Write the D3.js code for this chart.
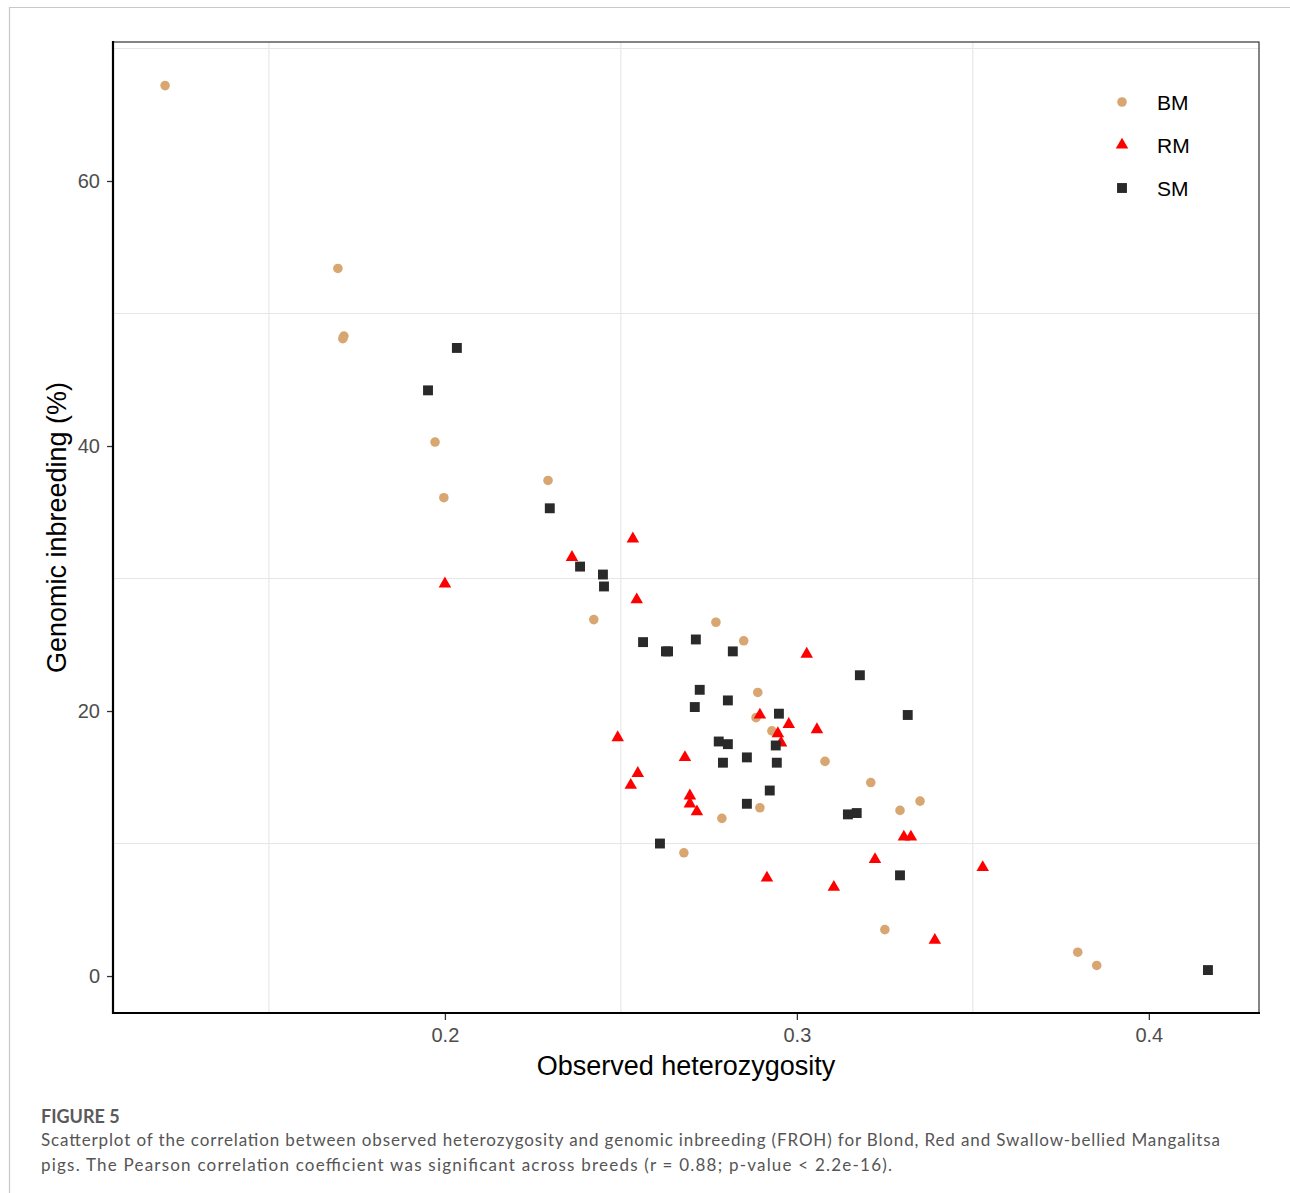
<!DOCTYPE html>
<html>
<head>
<meta charset="utf-8">
<script src="https://cdn.jsdelivr.net/npm/d3@7"></script>
<style>
  html, body { margin: 0; padding: 0; background: #fff; }
  svg { display: block; }
</style>
</head>
<body>
<div id="chart"></div>
<script>
// ===== DATA =====
const breeds = ['BM', 'RM', 'SM'];

// Blond Mangalitsa
const bmHet = [0.1205, 0.1696, 0.1713, 0.1710, 0.1972, 0.1997, 0.2293, 0.2423, 0.2770, 0.2849,
  0.2889, 0.2884, 0.2929, 0.3080, 0.3210, 0.3293, 0.3350, 0.2895, 0.2787, 0.2679,
  0.3250, 0.3798, 0.3852];
const bmFroh = [67.2, 53.4, 48.3, 48.1, 40.3, 36.1, 37.4, 26.9, 26.7, 25.3,
  21.4, 19.5, 18.5, 16.2, 14.6, 12.5, 13.2, 12.7, 11.9, 9.3,
  3.5, 1.8, 0.8];

// Red Mangalitsa
const rmHet = [0.2000, 0.2361, 0.2534, 0.2545, 0.3028, 0.2491, 0.2548, 0.2528, 0.2682, 0.2696,
  0.2696, 0.2716, 0.2895, 0.2977, 0.2946, 0.2955, 0.3057, 0.3304, 0.3324, 0.3222,
  0.2915, 0.3105, 0.3528, 0.3392];
const rmFroh = [29.6, 31.6, 33.0, 28.4, 24.3, 18.0, 15.3, 14.4, 16.5, 13.6,
  13.0, 12.4, 19.7, 19.0, 18.3, 17.6, 18.6, 10.5, 10.5, 8.8,
  7.4, 6.7, 8.2, 2.7];

// Swallow-bellied Mangalitsa
const smHet = [0.2034, 0.1952, 0.2298, 0.2384, 0.2449, 0.2452, 0.2563, 0.2628, 0.2634, 0.2713,
  0.2818, 0.2724, 0.2710, 0.2804, 0.3179, 0.2949, 0.3315, 0.2778, 0.2804, 0.2940,
  0.2858, 0.2790, 0.2943, 0.2923, 0.2858, 0.3145, 0.3170, 0.2611, 0.3293, 0.4168];
const smFroh = [47.4, 44.2, 35.3, 30.9, 30.3, 29.4, 25.2, 24.5, 24.5, 25.4,
  24.5, 21.6, 20.3, 20.8, 22.7, 19.8, 19.7, 17.7, 17.5, 17.4,
  16.5, 16.1, 16.1, 14.0, 13.0, 12.2, 12.3, 10.0, 7.6, 0.45];

const xTicks = [0.2, 0.3, 0.4];
const xMinor = [0.15, 0.25, 0.35];
const yTicks = [0, 20, 40, 60];
const yMinor = [10, 30, 50, 70];

const captionTitle = 'FIGURE 5';
const captionLines = [
  'Scatterplot of the correlation between observed heterozygosity and genomic inbreeding (FROH) for Blond, Red and Swallow-bellied Mangalitsa',
  'pigs. The Pearson correlation coefficient was significant across breeds (r = 0.88; p-value < 2.2e-16).'
];

// ===== LAYOUT =====
const W = 1290, H = 1193;
const P = { left: 113, right: 1259, top: 42, bottom: 1013 };

const colors = { BM: '#D8A671', RM: '#FF0000', SM: '#2A2A2A' };
const shapes = {
  BM: d3.symbol().type(d3.symbolCircle).size(72),
  RM: d3.symbol().type(d3.symbolTriangle).size(68),
  SM: d3.symbol().type(d3.symbolSquare).size(98)
};

const series = [
  { key: 'BM', xs: bmHet, ys: bmFroh },
  { key: 'RM', xs: rmHet, ys: rmFroh },
  { key: 'SM', xs: smHet, ys: smFroh }
];

const x = d3.scaleLinear().domain([0.1057, 0.4313]).range([P.left, P.right]);
const y = d3.scaleLinear().domain([-2.79, 70.49]).range([P.bottom, P.top]);

const svg = d3.select('#chart').append('svg')
  .attr('width', W)
  .attr('height', H);

// card frame (page border of the figure)
svg.append('path')
  .attr('d', `M9.5,${H} L9.5,7.5 L${W},7.5`)
  .attr('fill', 'none')
  .attr('stroke', '#c8c8c8')
  .attr('stroke-width', 1.2);

// grid
const grid = svg.append('g').attr('class', 'grid');
grid.selectAll('line.xminor').data(xMinor).join('line')
  .attr('x1', d => x(d)).attr('x2', d => x(d))
  .attr('y1', P.top).attr('y2', P.bottom)
  .attr('stroke', '#e6e6e6').attr('stroke-width', 1.1);
grid.selectAll('line.yminor').data(yMinor).join('line')
  .attr('y1', d => y(d)).attr('y2', d => y(d))
  .attr('x1', P.left).attr('x2', P.right)
  .attr('stroke', '#e6e6e6').attr('stroke-width', 1.1);

// panel border (top / right thin)
svg.append('rect')
  .attr('x', P.left).attr('y', P.top)
  .attr('width', P.right - P.left).attr('height', P.bottom - P.top)
  .attr('fill', 'none')
  .attr('stroke', '#333')
  .attr('stroke-width', 1.2);

// axes
const xAxis = svg.append('g')
  .attr('transform', `translate(0,${P.bottom})`)
  .call(d3.axisBottom(x).tickValues(xTicks).tickSize(7).tickPadding(8).tickFormat(d3.format('.1f')));
const yAxis = svg.append('g')
  .attr('transform', `translate(${P.left},0)`)
  .call(d3.axisLeft(y).tickValues(yTicks).tickSize(6).tickPadding(7).tickFormat(d3.format('d')));

[xAxis, yAxis].forEach(ax => {
  ax.select('.domain').remove();
  ax.selectAll('.tick line').attr('stroke', '#333').attr('stroke-width', 1.3);
  ax.selectAll('.tick text')
    .attr('fill', '#4d4d4d')
    .attr('font-family', 'Liberation Sans, Arial, sans-serif')
    .attr('font-size', 20);
});

// heavy axis lines (left + bottom)
svg.append('path')
  .attr('d', `M${P.left},${P.top - 1} L${P.left},${P.bottom} L${P.right + 1},${P.bottom}`)
  .attr('fill', 'none')
  .attr('stroke', '#000')
  .attr('stroke-width', 2.2);

// axis titles
svg.append('text')
  .attr('x', (P.left + P.right) / 2)
  .attr('y', 1075)
  .attr('text-anchor', 'middle')
  .attr('font-family', 'Liberation Sans, Arial, sans-serif')
  .attr('font-size', 27)
  .attr('fill', '#000')
  .text('Observed heterozygosity');

svg.append('text')
  .attr('transform', `translate(66,${(P.top + P.bottom) / 2}) rotate(-90)`)
  .attr('text-anchor', 'middle')
  .attr('font-family', 'Liberation Sans, Arial, sans-serif')
  .attr('font-size', 27)
  .attr('fill', '#000')
  .text('Genomic inbreeding (%)');

// points
const pts = svg.append('g').attr('class', 'points');
series.forEach(s => {
  const data = s.xs.map((v, i) => ({ het: v, froh: s.ys[i] }));
  pts.append('g')
    .selectAll('path')
    .data(data)
    .join('path')
    .attr('d', shapes[s.key])
    .attr('transform', d => `translate(${x(d.het)},${y(d.froh)})`)
    .attr('fill', colors[s.key]);
});

// legend
const legend = svg.append('g').attr('transform', 'translate(1122,102)');
const item = legend.selectAll('g').data(breeds).join('g')
  .attr('transform', (d, i) => `translate(0,${i * 43})`);
item.append('path')
  .attr('d', d => shapes[d]())
  .attr('fill', d => colors[d]);
item.append('text')
  .attr('x', 35)
  .attr('dy', '0.36em')
  .attr('font-family', 'Liberation Sans, Arial, sans-serif')
  .attr('font-size', 21)
  .attr('fill', '#000')
  .text(d => d);

// caption
svg.append('text')
  .attr('x', 41).attr('y', 1123)
  .attr('font-family', 'Lato, "Open Sans", sans-serif')
  .attr('font-weight', 700)
  .attr('font-size', 18)
  .attr('fill', '#5a5a5a')
  .text(captionTitle);

const capWidths = [1179, 851];
svg.selectAll('text.cap').data(captionLines).join('text')
  .attr('class', 'cap')
  .attr('x', 41)
  .attr('y', (d, i) => 1146 + i * 25)
  .attr('font-family', 'Lato, "Open Sans", sans-serif')
  .attr('font-size', 17)
  .attr('fill', '#555')
  .attr('textLength', (d, i) => capWidths[i])
  .attr('lengthAdjust', 'spacing')
  .text(d => d);
</script>
</body>
</html>
